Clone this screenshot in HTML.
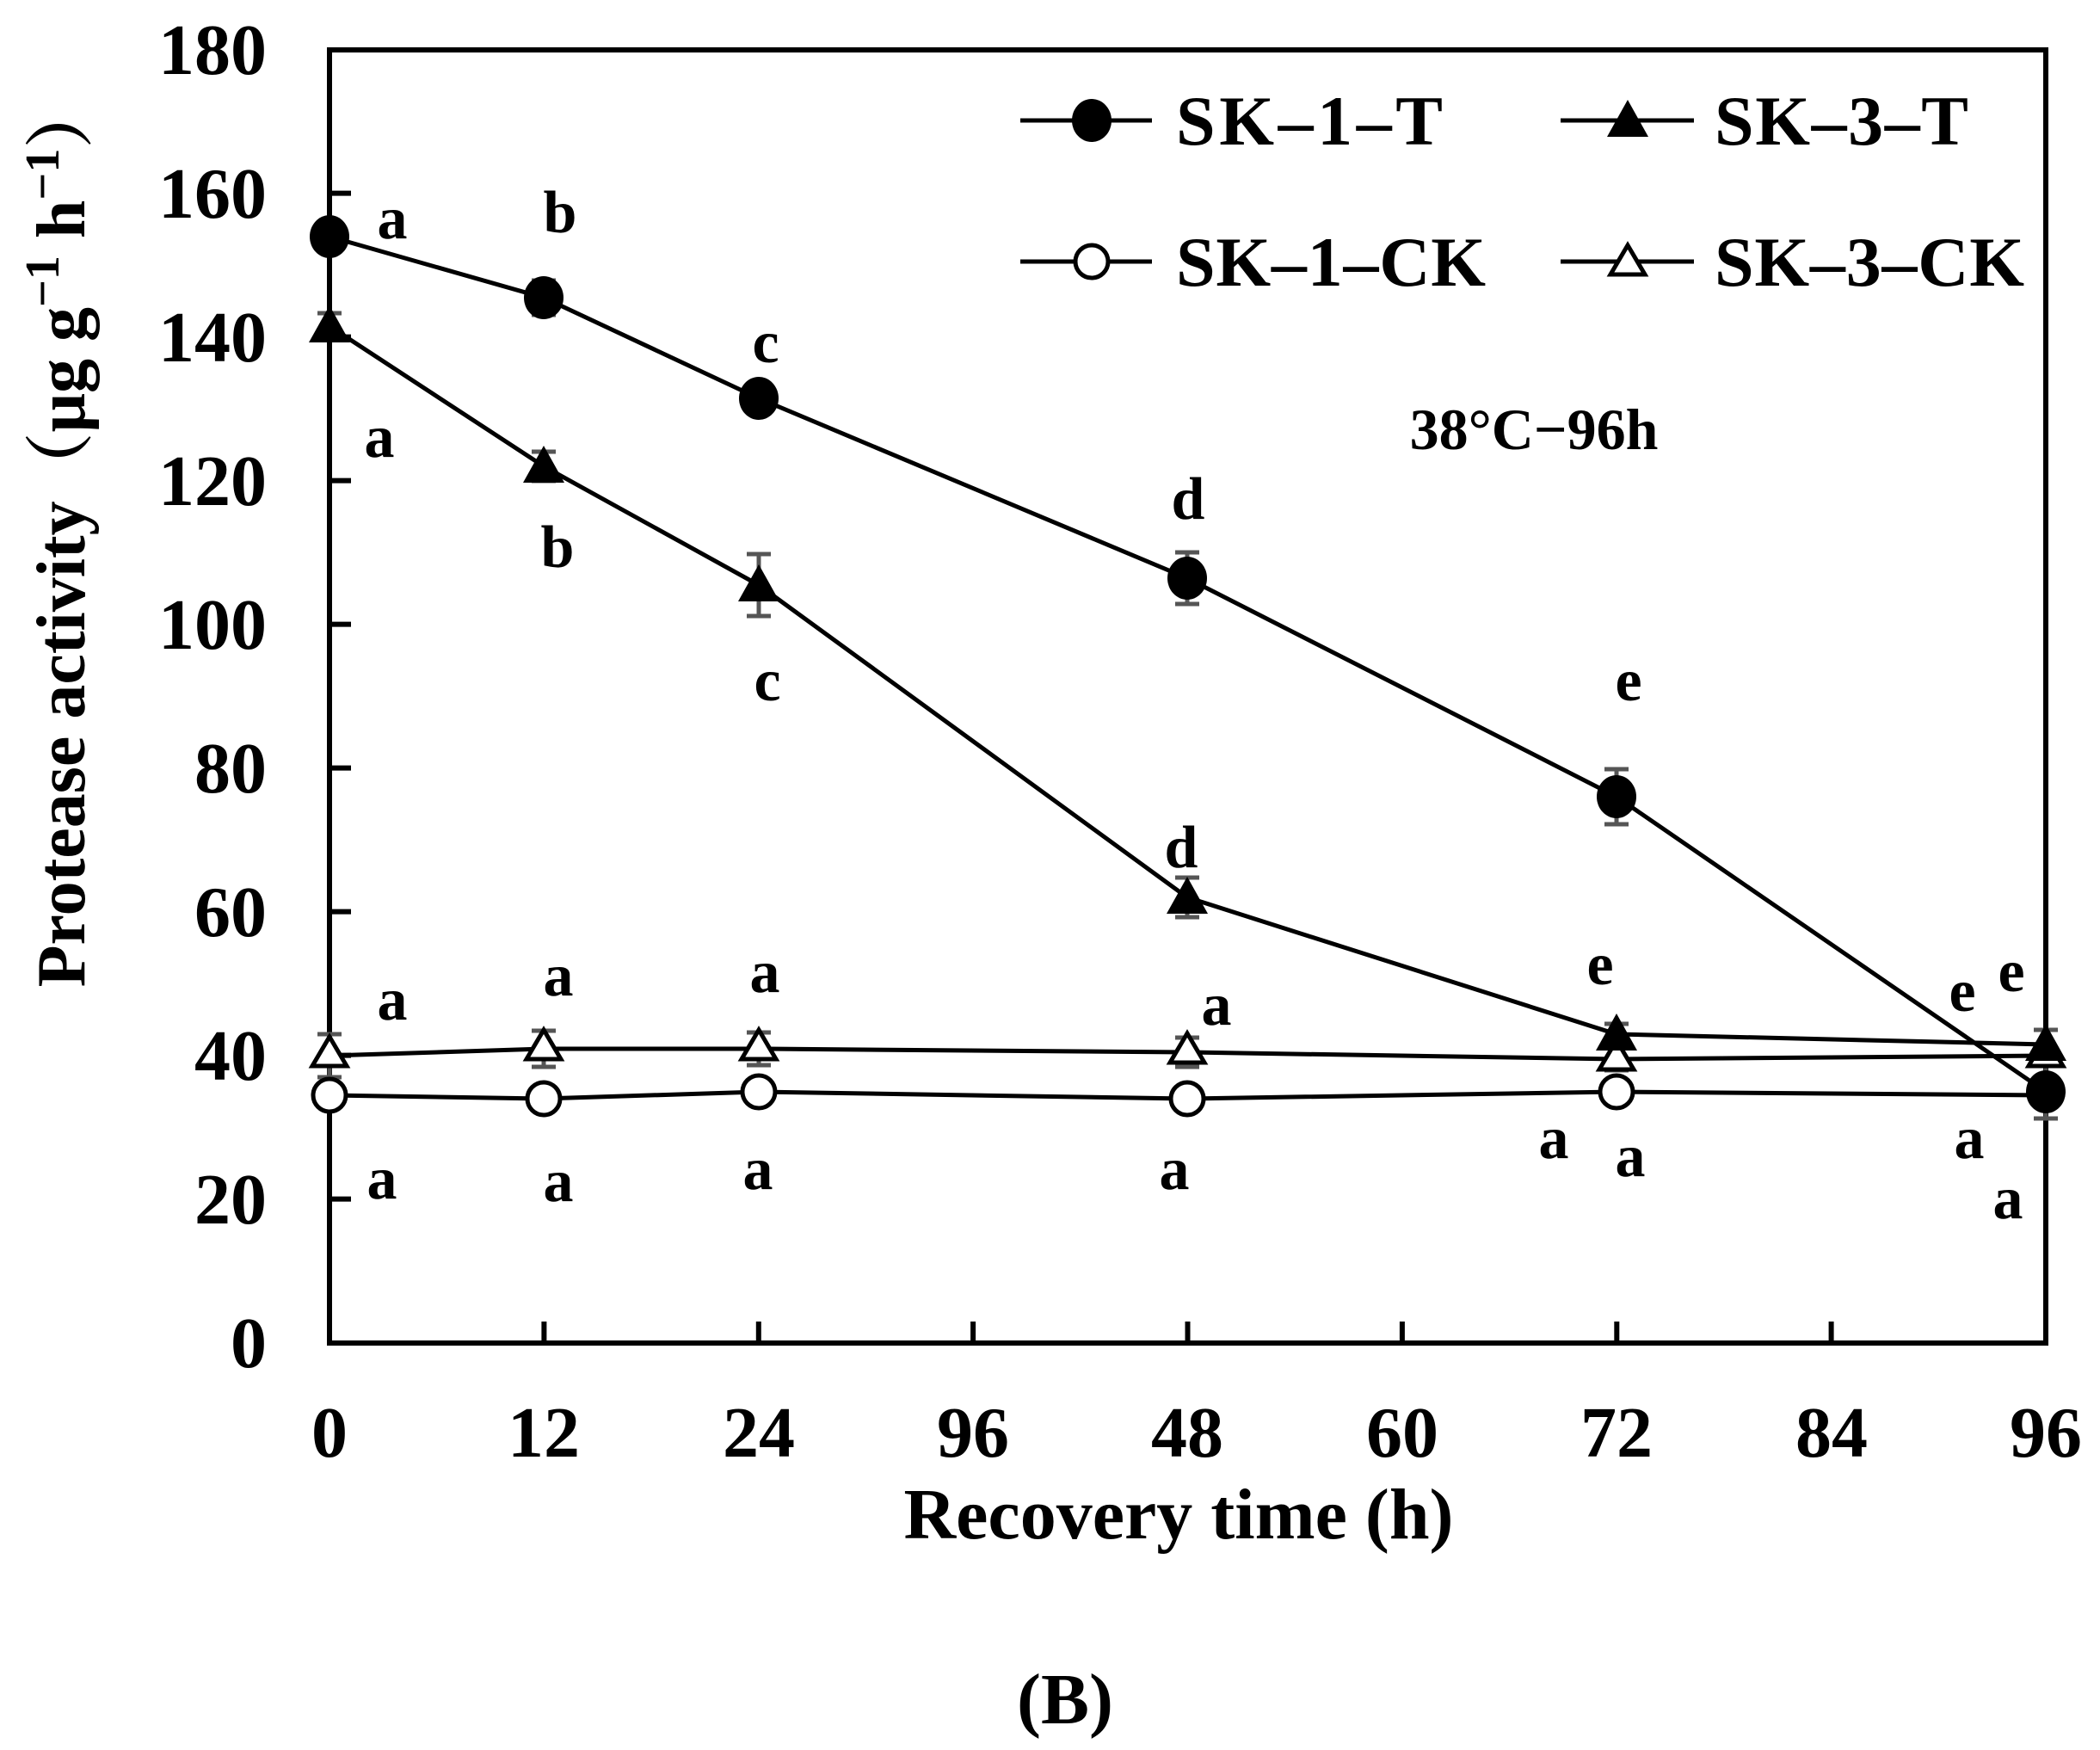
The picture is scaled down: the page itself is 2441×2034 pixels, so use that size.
<!DOCTYPE html>
<html><head><meta charset="utf-8"><style>html,body{margin:0;padding:0;background:#fff}svg{display:block}</style></head>
<body>
<svg width="2441" height="2034" viewBox="0 0 2441 2034" xmlns="http://www.w3.org/2000/svg" font-family="'Liberation Serif', serif" font-weight="bold">
<rect width="2441" height="2034" fill="#fff"/>
<!-- axes -->
<g stroke="#000" stroke-width="6" fill="none">
<rect x="383" y="58" width="1995" height="1503"/>
<path d="M383 1393.6h25M383 1226.6h25M383 1059.6h25M383 892.6h25M383 725.6h25M383 558.6h25M383 391.6h25M383 224.6h25"/>
<path d="M632.4 1561v-25M881.8 1561v-25M1131.1 1561v-25M1380.5 1561v-25M1629.9 1561v-25M1879.3 1561v-25M2128.6 1561v-25"/>
</g>
<g font-size="84" text-anchor="end">
<text x="310" y="1589">0</text><text x="310" y="1422">20</text><text x="310" y="1255">40</text><text x="310" y="1088">60</text><text x="310" y="921">80</text><text x="310" y="754">100</text><text x="310" y="587">120</text><text x="310" y="420">140</text><text x="310" y="253">160</text><text x="310" y="86">180</text>
</g>
<g font-size="84" text-anchor="middle">
<text x="383" y="1693">0</text><text x="632" y="1693">12</text><text x="882" y="1693">24</text><text x="1131" y="1693">96</text><text x="1380" y="1693">48</text><text x="1630" y="1693">60</text><text x="1879" y="1693">72</text><text x="2129" y="1693">84</text><text x="2378" y="1693">96</text>
<text x="1370" y="1788">Recovery time (h)</text>
<text x="1238" y="2003">(B)</text>
</g>
<text transform="translate(98,620) rotate(-90)" font-size="80" text-anchor="middle" font-family="'Liberation Serif','Noto Serif CJK SC',serif">Protease activity（μg g<tspan dy="-30" font-size="56">−1</tspan><tspan dy="30"> h</tspan><tspan dy="-30" font-size="56">−1</tspan><tspan dy="30">）</tspan></text>
<!-- error bars -->
<g stroke="#555" stroke-width="5" fill="none">
<!-- SK-1-T -->
<path d="M383 258v34M369 258h28M369 292h28"/>
<path d="M632 326v40M618 326h28M618 366h28"/>
<path d="M882 450v26M868 450h28M868 476h28"/>
<path d="M1380 642v60M1366 642h28M1366 702h28"/>
<path d="M1879 894v64M1865 894h28M1865 958h28"/>
<path d="M2378 1236v64M2364 1236h28M2364 1300h28"/>
<!-- SK-3-T -->
<path d="M383 364v30M369 364h28M369 394h28"/>
<path d="M632 525v34M618 525h28M618 559h28"/>
<path d="M882 644v72M868 644h28M868 716h28"/>
<path d="M1380 1020v46M1366 1020h28M1366 1066h28"/>
<path d="M1879 1190v24M1865 1190h28M1865 1214h28"/>
<path d="M2378 1197v34M2364 1197h28M2364 1231h28"/>
<!-- SK-3-CK -->
<path d="M383 1202v50M369 1202h28M369 1252h28"/>
<path d="M632 1198v42M618 1198h28M618 1240h28"/>
<path d="M882 1200v38M868 1200h28M868 1238h28"/>
<path d="M1380 1206v34M1366 1206h28M1366 1240h28"/>
<path d="M1879 1218v26M1865 1218h28M1865 1244h28"/>
<!-- SK-1-CK -->
<path d="M632 1265v24M618 1265h28M618 1289h28"/>
<path d="M1380 1266v22M1366 1266h28M1366 1288h28"/>
<path d="M1879 1258v22M1865 1258h28M1865 1280h28"/>
</g>
<!-- series lines -->
<g stroke="#000" stroke-width="5" fill="none">
<polyline points="383,1273 632,1277 882,1269 1380,1277 1879,1269 2378,1273"/>
<polyline points="383,1227 632,1219 882,1219 1380,1223 1879,1231 2378,1227"/>
<polyline points="383,275 632,346 882,463 1380,672 1879,926 2378,1269"/>
<polyline points="383,379 632,542 882,680 1380,1043 1879,1202 2378,1214"/>
</g>
<!-- markers -->
<g fill="#fff" stroke="#000" stroke-width="5">
<circle cx="383" cy="1273" r="19"/><circle cx="632" cy="1277" r="19"/><circle cx="882" cy="1269" r="19"/><circle cx="1380" cy="1277" r="19"/><circle cx="1879" cy="1269" r="19"/>
<path d="M383 1205l20 34h-40z M632 1197l20 34h-40z M882 1197l20 34h-40z M1380 1201l20 34h-40z M1879 1209l20 34h-40z M2378 1205l20 34h-40z"/>
</g>
<g fill="#000">
<ellipse cx="383" cy="275" rx="23" ry="25"/><ellipse cx="632" cy="346" rx="23" ry="25"/><ellipse cx="882" cy="463" rx="23" ry="25"/><ellipse cx="1380" cy="672" rx="23" ry="25"/><ellipse cx="1879" cy="926" rx="23" ry="25"/><ellipse cx="2378" cy="1269" rx="23" ry="25"/>
<path d="M383 355l24 43h-48z M632 518l24 43h-48z M882 656l24 43h-48z M1380 1019l24 43h-48z M1879 1178l24 43h-48z M2378 1190l24 43h-48z"/>
</g>
<!-- legend -->
<g stroke="#000" stroke-width="5"><path d="M1186 140h153M1814 140h155M1186 304h153M1814 304h155"/></g>
<ellipse cx="1269" cy="140" rx="23" ry="25"/>
<path d="M1892 116l24 43h-48z"/>
<circle cx="1269" cy="304" r="19" fill="#fff" stroke="#000" stroke-width="5"/>
<path d="M1892 285l20 34h-40z" fill="#fff" stroke="#000" stroke-width="5"/>
<g font-size="82"><text x="1367" y="168" textLength="310">SK–1–T</text><text x="1993" y="168" textLength="295">SK–3–T</text><text x="1367" y="332" textLength="360">SK–1–CK</text><text x="1993" y="332" textLength="360">SK–3–CK</text></g>
<text x="1783" y="522" font-size="68" text-anchor="middle">38°C−96h</text>
<!-- letters -->
<g font-size="70" text-anchor="middle">
<text x="456" y="277">a</text><text x="651" y="270">b</text><text x="890" y="421">c</text><text x="1381" y="603">d</text><text x="1893" y="814">e</text><text x="2281" y="1175">e</text><text x="2338" y="1152">e</text>
<text x="441" y="531">a</text><text x="648" y="659">b</text><text x="892" y="814">c</text><text x="1373" y="1008">d</text><text x="1860" y="1144">e</text>
<text x="456" y="1185">a</text><text x="649" y="1157">a</text><text x="889" y="1153">a</text><text x="1414" y="1191">a</text>
<text x="444" y="1393">a</text><text x="649" y="1396">a</text><text x="881" y="1382">a</text><text x="1365" y="1382">a</text><text x="1806" y="1346">a</text><text x="1895" y="1367">a</text><text x="2289" y="1346">a</text><text x="2334" y="1416">a</text>
</g>
</svg>
</body></html>
